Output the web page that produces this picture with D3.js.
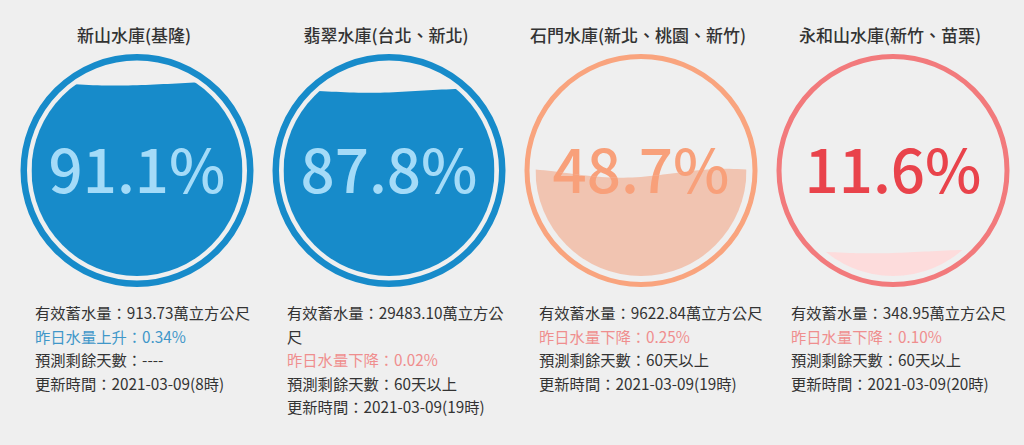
<!DOCTYPE html>
<html lang="zh-Hant">
<head>
    <meta charset="UTF-8">
    <title>水庫蓄水量</title>
    <script src="https://d3js.org/d3.v7.min.js"></script>
    <style>
        html, body { margin: 0; padding: 0; background: #efefef; }
        svg { display: block; font-family: "Noto Sans CJK TC", "Noto Sans", sans-serif; }
    </style>
</head>
<body>
    <script>
        //Reservoir data
        var reservoirs = ["新山水庫(基隆)", "翡翠水庫(台北、新北)", "石門水庫(新北、桃園、新竹)", "永和山水庫(新竹、苗栗)"];
        var percents = [91.1, 87.8, 48.7, 11.6];
        var storage = ["913.73", "29483.10", "9622.84", "348.95"];
        var changeDir = ["上升", "下降", "下降", "下降"];
        var changePct = ["0.34%", "0.02%", "0.25%", "0.10%"];
        var daysLeft = ["----", "60天以上", "60天以上", "60天以上"];
        var updated = ["2021-03-09(8時)", "2021-03-09(19時)", "2021-03-09(19時)", "2021-03-09(20時)"];

        //Colours for each gauge
        var ringColor = ["#178bca", "#178bca", "#f9a47e", "#f27a7c"];
        var waveColor = ["#178bca", "#178bca", "#f1c4b1", "#fddcdc"];
        var textColor = ["#045681", "#045681", "#f8a07a", "#e9434b"];
        var waveTextColor = ["#a4dbf8", "#a4dbf8", "#f8a07a", "#e9434b"];
        var ringWidth = [6.5, 6.5, 5, 5];

        //SVG dimensions
        var w = 1024;
        var h = 445;
        var cy = 170.5;
        var r = 116.5;
        var fillR = 105.5;

        var svg = d3.select("body")
            .append("svg")
            .attr("width", w)
            .attr("height", h);

        var xScale = d3.scaleBand()
            .domain(d3.range(reservoirs.length))
            .range([11, 1019]);

        //fill level inside the inner circle
        var levelScale = d3.scaleLinear()
            .domain([0, 100])
            .range([cy + fillR, cy - fillR]);

        //wave amplitude is biggest at half full
        var ampScale = d3.scaleLinear()
            .domain([0, 50, 100])
            .range([1, 4.5, 1.2]);

        var gauges = svg.selectAll("g.gauge")
            .data(percents)
            .enter()
            .append("g")
            .attr("class", "gauge");

        gauges.each(function(p, i) {
            var g = d3.select(this);
            var cx = xScale(i) + xScale.bandwidth() / 2;

            //title
            g.append("text")
                .attr("x", cx - 3)
                .attr("y", 42)
                .attr("text-anchor", "middle")
                .style("font-size", "17px")
                .style("font-weight", "500")
                .style("fill", "#333")
                .text(reservoirs[i]);

            //outer ring
            g.append("circle")
                .attr("cx", cx)
                .attr("cy", cy)
                .attr("r", r - ringWidth[i] / 2)
                .attr("fill", "none")
                .attr("stroke", ringColor[i])
                .attr("stroke-width", ringWidth[i]);

            //wave shape used as clip
            var level = levelScale(p);
            var amp = ampScale(p);
            var waveX = d3.scaleLinear().domain([0, 1]).range([cx - fillR, cx + fillR]);
            var area = d3.area()
                .x(function(t) { return waveX(t); })
                .y0(function(t) { return level - amp * Math.cos(Math.PI * 2 * t + 0.6); })
                .y1(cy + fillR + 2);

            g.append("clipPath")
                .attr("id", "wave" + i)
                .append("path")
                .attr("d", area(d3.range(0, 1.0001, 1 / 48)));

            var label = p.toFixed(1) + "%";

            g.append("text")
                .attr("x", cx)
                .attr("y", cy + 22)
                .attr("text-anchor", "middle")
                .style("font-size", "60px")
                .style("font-weight", "500")
                .style("fill", textColor[i])
                .text(label);

            var inner = g.append("g")
                .attr("clip-path", "url(#wave" + i + ")");

            inner.append("circle")
                .attr("cx", cx)
                .attr("cy", cy)
                .attr("r", fillR)
                .attr("fill", waveColor[i]);

            inner.append("text")
                .attr("x", cx)
                .attr("y", cy + 22)
                .attr("text-anchor", "middle")
                .style("font-size", "60px")
                .style("font-weight", "500")
                .style("fill", waveTextColor[i])
                .text(label);

            //info lines below the gauge
            var lines = [
                { t: "有效蓄水量：" + storage[i] + "萬立方公尺", c: "#333" },
                { t: "昨日水量" + changeDir[i] + "：" + changePct[i], c: changeDir[i] == "上升" ? "#3f97c9" : "#ef8e8e" },
                { t: "預測剩餘天數：" + daysLeft[i], c: "#333" },
                { t: "更新時間：" + updated[i], c: "#333" }
            ];
            var y = 319;
            var lineH = 23.5;
            var left = cx - 102;
            lines.forEach(function(l) {
                var txt = g.append("text")
                    .attr("x", left)
                    .attr("y", y)
                    .style("font-size", "15.3px")
                    .style("fill", l.c);
                var n = wrap(txt, l.t, 226, left, lineH);
                y += n * lineH;
            });
        });

        //split a string onto several lines when it is too wide
        function wrap(txt, str, maxW, x, lineH) {
            var tokens = str.match(/[0-9A-Za-z.\-%()]+|./g);
            var tspan = txt.append("tspan").attr("x", x);
            var cur = "";
            var n = 1;
            tokens.forEach(function(tok) {
                tspan.text(cur + tok);
                if (tspan.node().getComputedTextLength() > maxW && cur != "") {
                    tspan.text(cur);
                    cur = tok;
                    tspan = txt.append("tspan").attr("x", x).attr("dy", lineH).text(cur);
                    n++;
                } else {
                    cur = cur + tok;
                }
            });
            return n;
        }
    </script>
</body>
</html>
